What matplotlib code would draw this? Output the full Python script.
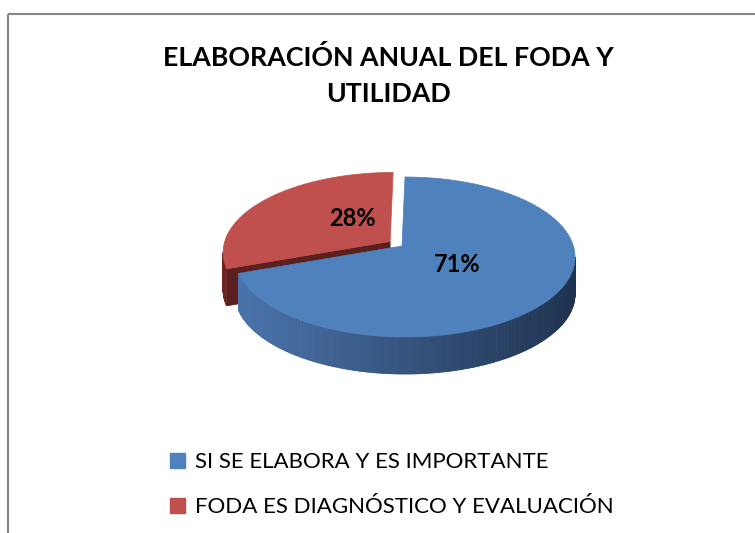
import numpy as np
import matplotlib
matplotlib.use('Agg')
import matplotlib.pyplot as plt
from matplotlib.patches import Polygon, Patch
from matplotlib.collections import PolyCollection
from matplotlib.colors import LinearSegmentedColormap

# Data
labels = ['SI SE ELABORA Y ES IMPORTANTE', 'FODA ES DIAGNÓSTICO Y EVALUACIÓN']
values = [71, 28]
pct_labels = ['71%', '28%']
top_colors = ['#4F81BD', '#C0504D']
side_dark = ['#1F3350', '#5A1F1E']
side_light = ['#4A74AC', '#6A2624']
explode = [0.0, 0.09]

title = 'ELABORACIÓN ANUAL DEL FODA Y\nUTILIDAD'

# Pie geometry (pixel space)
cx, cy = 405, 257
a, b = 170, 80
depth = 37
vx, vy = -3, -11  # perspective shift of the pie centre

fig = plt.figure(figsize=(7.55, 5.33), dpi=100)
ax = fig.add_axes([0, 0, 1, 1])
ax.set_xlim(0, 755)
ax.set_ylim(533, 0)
ax.axis('off')


def pt(t, ox=0, oy=0):
    r = np.radians(t)
    return cx + ox + a * np.cos(r), cy + oy - b * np.sin(r)


total = sum(values)
fracs = [v / total for v in values]

# angles: start at 90 going clockwise
slices = []
start = 90.0
for f in fracs:
    t1 = start
    t0 = start - f * 360
    slices.append((t0, t1))
    start = t0

# draw back slice (red) first, then blue
for i in [1, 0]:
    t0, t1 = slices[i]
    mid = np.radians((t0 + t1) / 2)
    ox = explode[i] * a * np.cos(mid)
    oy = -explode[i] * b * np.sin(mid)
    ctr = (cx + vx + ox, cy + vy + oy)
    cmap = LinearSegmentedColormap.from_list('s', [side_light[i], side_dark[i]])

    # radial faces that face the viewer
    for t, sgn in [(t1, -1), (t0, 1)]:
        if sgn * np.cos(np.radians(t)) > 1e-6:
            x1, y1 = pt(t, ox, oy)
            face = [ctr, (x1, y1), (x1, y1 + depth), (ctr[0], ctr[1] + depth)]
            ax.add_patch(Polygon(face, closed=True, fc=side_dark[i], ec=side_dark[i], lw=0.5))

    # outer side, visible front half
    ts = np.linspace(t0, t1, 400)
    quads, cols = [], []
    for ta, tb in zip(ts[:-1], ts[1:]):
        if np.sin(np.radians((ta + tb) / 2)) >= 0:
            continue
        xa, ya = pt(ta, ox, oy)
        xb, yb = pt(tb, ox, oy)
        quads.append([(xa, ya), (xb, yb), (xb, yb + depth), (xa, ya + depth)])
        cols.append(cmap(np.clip(((xa + xb) / 2 - (cx - a)) / (2 * a), 0, 1)))
    if quads:
        ax.add_collection(PolyCollection(quads, facecolors=cols, edgecolors=cols, linewidths=0.6))

    # top face
    top = [ctr] + [pt(t, ox, oy) for t in np.linspace(t0, t1, 300)]
    ax.add_patch(Polygon(top, closed=True, fc=top_colors[i], ec=top_colors[i], lw=0.5))

# percentage labels
ax.text(457, 264, pct_labels[0], ha='center', va='center', fontsize=17,
        fontweight='bold', family='Lato', color='black')
ax.text(352, 218, pct_labels[1], ha='center', va='center', fontsize=17,
        fontweight='bold', family='Lato', color='black')

# title
ax.text(388, 76, title, ha='center', va='center', fontsize=19.3, fontweight='bold',
        family='Lato', linespacing=1.6, color='black')

# legend
handles = [Patch(facecolor=c, edgecolor=c) for c in top_colors]
ax.legend(handles, labels, loc='upper left', bbox_to_anchor=(159, 441),
          bbox_transform=ax.transData, frameon=False, borderpad=0,
          handlelength=0.65, handleheight=0.65, handletextpad=0.45,
          labelspacing=1.12, prop={'family': 'Lato', 'size': 16})

# chart border (gray)
ax.plot([8, 8], [533, 14], color='#878787', lw=1.5, solid_capstyle='butt')
ax.plot([8, 755], [14, 14], color='#878787', lw=1.5, solid_capstyle='butt')

fig.savefig('out.png', dpi=100)
